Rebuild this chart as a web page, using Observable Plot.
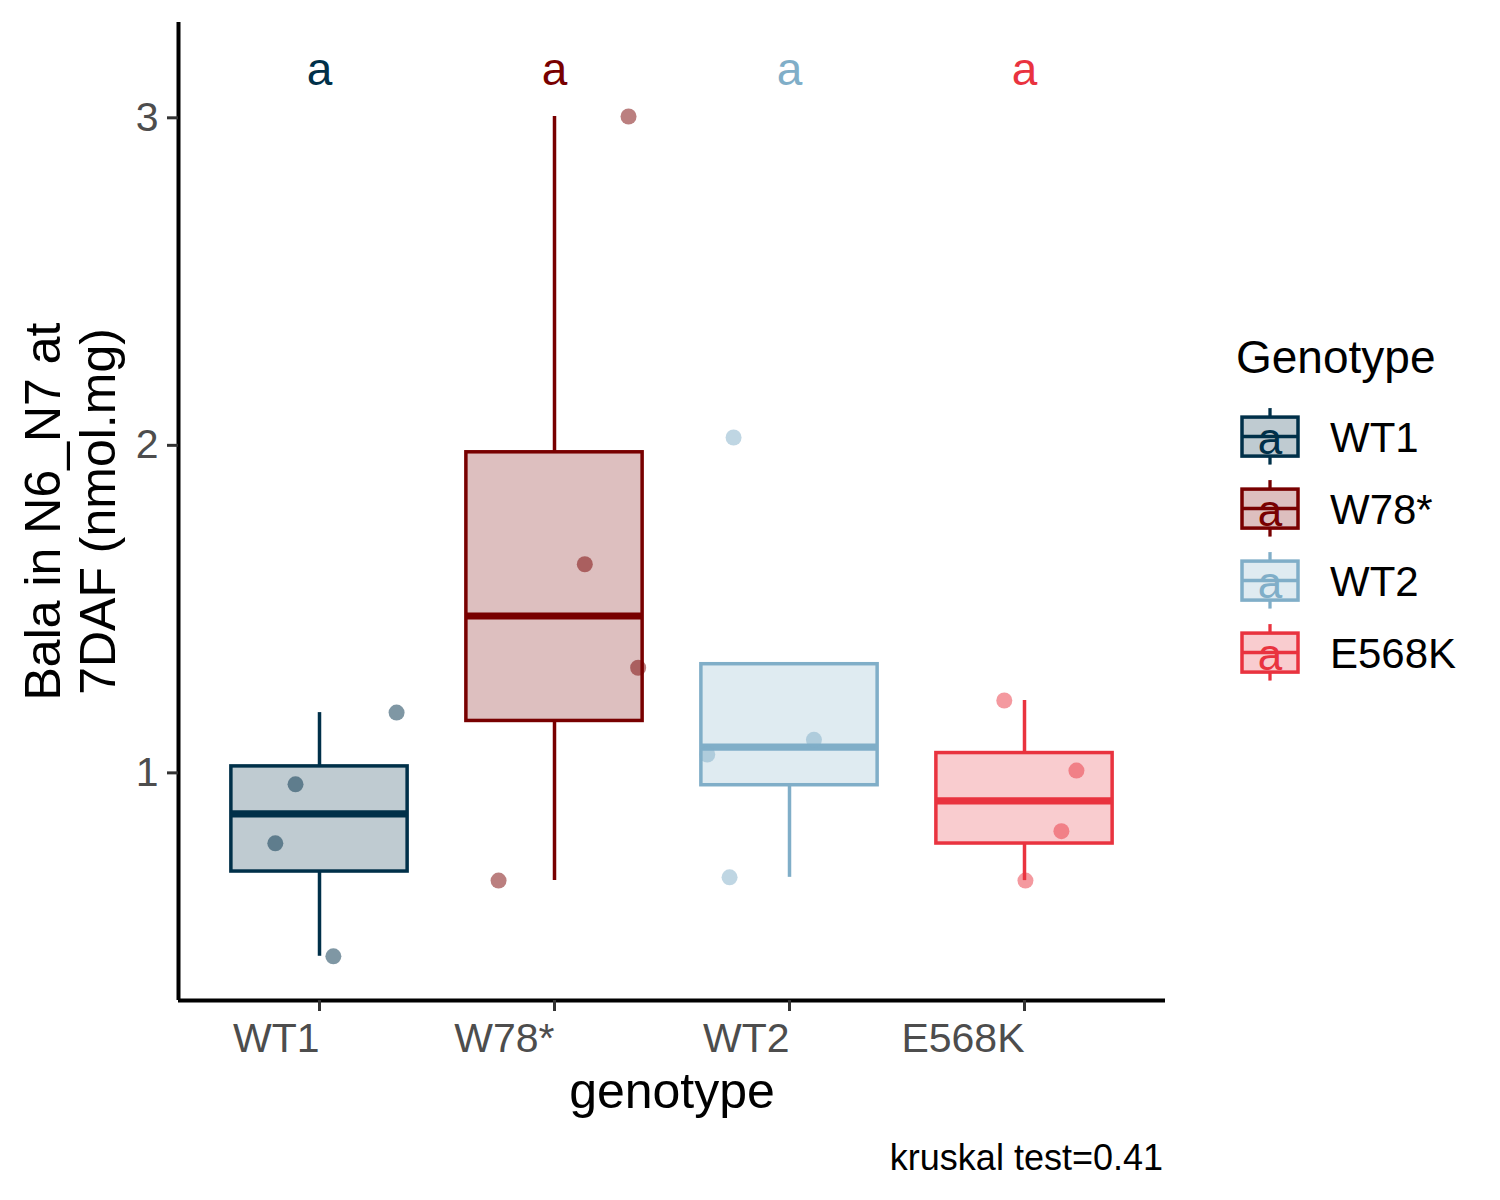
<!DOCTYPE html>
<html>
<head>
<meta charset="utf-8">
<script src="https://cdn.jsdelivr.net/npm/d3@7"></script>
<script src="https://cdn.jsdelivr.net/npm/@observablehq/plot@0.6"></script>
<style>
  body { margin: 0; background: #ffffff; }
  #wrap { position: relative; width: 1500px; height: 1200px; background: #ffffff; }
  #overlay { position: absolute; left: 0; top: 0; pointer-events: none; }
</style>
</head>
<body>
<div id="wrap"></div>
<script>
// ---- data ----
const genotypes = ["WT1", "W78*", "WT2", "E568K"];
const genoColors = ["#003049", "#780000", "#80aec8", "#e9333f"];

const valuesWT1   = [1.184, 0.965, 0.785, 0.440];
const valuesW78   = [0.671, 1.637, 1.321, 3.004];
const valuesWT2   = [2.024, 1.101, 1.056, 0.681];
const valuesE568K = [1.221, 1.007, 0.822, 0.671];

// horizontal jitter of each point (category units)
const jitterWT1   = [0.328, -0.102, -0.188, 0.059];
const jitterW78   = [-0.238, 0.129, 0.356, 0.315];
const jitterWT2   = [-0.238, 0.104, -0.350, -0.255];
const jitterE568K = [-0.086, 0.221, 0.157, 0.004];

const groupLetters = ["a", "a", "a", "a"];
const letterY = 3.145;
const yTicks = [1, 2, 3];
const kruskalP = "0.41";
const yTitle = "Bala in N6_N7 at\n7DAF (nmol.mg)";
const xTitle = "genotype";
const legendTitle = "Genotype";

// ---- build tables ----
const allValues = [valuesWT1, valuesW78, valuesWT2, valuesE568K];
const allJitter = [jitterWT1, jitterW78, jitterWT2, jitterE568K];

const points = [];
allValues.forEach((vals, g) => vals.forEach((v, k) => {
  points.push({genotype: genotypes[g], i: g + 1, v, jit: allJitter[g][k]});
}));

function boxStats(vals) {
  const s = vals.slice().sort(d3.ascending);
  const q1 = d3.quantile(s, 0.25), med = d3.quantile(s, 0.5), q3 = d3.quantile(s, 0.75);
  const iqr = q3 - q1;
  const inside = s.filter(v => v >= q1 - 1.5 * iqr && v <= q3 + 1.5 * iqr);
  return {q1, med, q3, lo: Math.min(q1, d3.min(inside)), hi: Math.max(q3, d3.max(inside))};
}
const boxes = allValues.map((vals, g) => ({genotype: genotypes[g], i: g + 1, letter: groupLetters[g], ...boxStats(vals)}));

const half = 0.375;
const font = "Liberation Sans, Arial, Helvetica, sans-serif";
const xDomain = [0.4, 4.6];
const yDomain = [0.305, 3.291];

const chart = Plot.plot({
  width: 1500,
  height: 1130,
  marginLeft: 178,
  marginRight: 335,
  marginTop: 22,
  marginBottom: 130,
  style: {fontFamily: font, background: "#ffffff", overflow: "visible"},
  x: {domain: xDomain, axis: null},
  y: {domain: yDomain, axis: null},
  color: {domain: genotypes, range: genoColors},
  marks: [
    // whiskers
    Plot.ruleX(boxes, {x: "i", y1: "q3", y2: "hi", stroke: "genotype", strokeWidth: 3.5}),
    Plot.ruleX(boxes, {x: "i", y1: "q1", y2: "lo", stroke: "genotype", strokeWidth: 3.5}),
    // boxes
    Plot.rect(boxes, {x1: d => d.i - half, x2: d => d.i + half, y1: "q1", y2: "q3",
      fill: "genotype", fillOpacity: 0.25, stroke: "genotype", strokeWidth: 3.5}),
    // medians
    Plot.ruleY(boxes, {y: "med", x1: d => d.i - half, x2: d => d.i + half, stroke: "genotype", strokeWidth: 7.2}),
    // jittered points
    Plot.dot(points, {x: d => d.i + d.jit, y: "v", r: 8, fill: "genotype", fillOpacity: 0.5}),
    // group letters
    Plot.text(boxes, {x: "i", y: () => letterY, text: "letter", fill: "genotype", fontSize: 46, lineAnchor: "middle"}),
    // axis lines
    Plot.ruleX([xDomain[0]], {stroke: "#000", strokeWidth: 4}),
    Plot.ruleY([yDomain[0]], {stroke: "#000", strokeWidth: 4}),
    // axes
    Plot.axisX({ticks: [1, 2, 3, 4], tickFormat: i => genotypes[i - 1], tickSize: 11, tickPadding: 11,
      textAnchor: "end", stroke: "#333333", fill: "#4d4d4d", strokeWidth: 3, fontSize: 41, label: null}),
    Plot.axisY({ticks: yTicks, tickFormat: d => String(d), tickSize: 11, tickPadding: 9,
      stroke: "#333333", fill: "#4d4d4d", strokeWidth: 3, fontSize: 41, label: null}),
    // axis titles
    Plot.text([yTitle], {frameAnchor: "left", rotate: -90, dx: -109, fontSize: 50, lineHeight: 1.1,
      textAnchor: "middle", lineAnchor: "middle", fill: "#000"}),
    Plot.text([xTitle], {frameAnchor: "bottom", lineAnchor: "top", dy: 72, fontSize: 50, fill: "#000"})
  ]
});

const wrap = document.getElementById("wrap");
wrap.appendChild(chart);

// ---- legend and caption overlay ----
const ov = d3.select(wrap).append("svg")
  .attr("id", "overlay").attr("width", 1500).attr("height", 1200)
  .style("font-family", font);

ov.append("text").attr("x", 1236).attr("y", 373).attr("font-size", 46).attr("fill", "#000").text(legendTitle);

const keyX = 1242, keyW = 56, keyH = 39, keyTop = 436.6, keyStep = 72;
genotypes.forEach((g, k) => {
  const cy = keyTop + keyStep * k, c = genoColors[k], cx = keyX + keyW / 2;
  const key = ov.append("g");
  key.append("line").attr("x1", cx).attr("x2", cx).attr("y1", cy - 28.5).attr("y2", cy + 28)
    .attr("stroke", c).attr("stroke-width", 3.3);
  key.append("rect").attr("x", keyX).attr("y", cy - keyH / 2).attr("width", keyW).attr("height", keyH)
    .attr("fill", "#fff");
  key.append("rect").attr("x", keyX).attr("y", cy - keyH / 2).attr("width", keyW).attr("height", keyH)
    .attr("fill", c).attr("fill-opacity", 0.25).attr("stroke", c).attr("stroke-width", 3.5);
  key.append("line").attr("x1", keyX).attr("x2", keyX + keyW).attr("y1", cy).attr("y2", cy)
    .attr("stroke", c).attr("stroke-width", 3.5);
  key.append("text").attr("x", cx).attr("y", cy + 17).attr("text-anchor", "middle")
    .attr("font-size", 44).attr("fill", c).text(groupLetters[k]);
  ov.append("text").attr("x", 1330).attr("y", cy + 15).attr("font-size", 42).attr("fill", "#000").text(g);
});

ov.append("text").attr("x", 1163).attr("y", 1170).attr("text-anchor", "end")
  .attr("font-size", 36).attr("fill", "#000").text("kruskal test=" + kruskalP);
</script>
</body>
</html>
